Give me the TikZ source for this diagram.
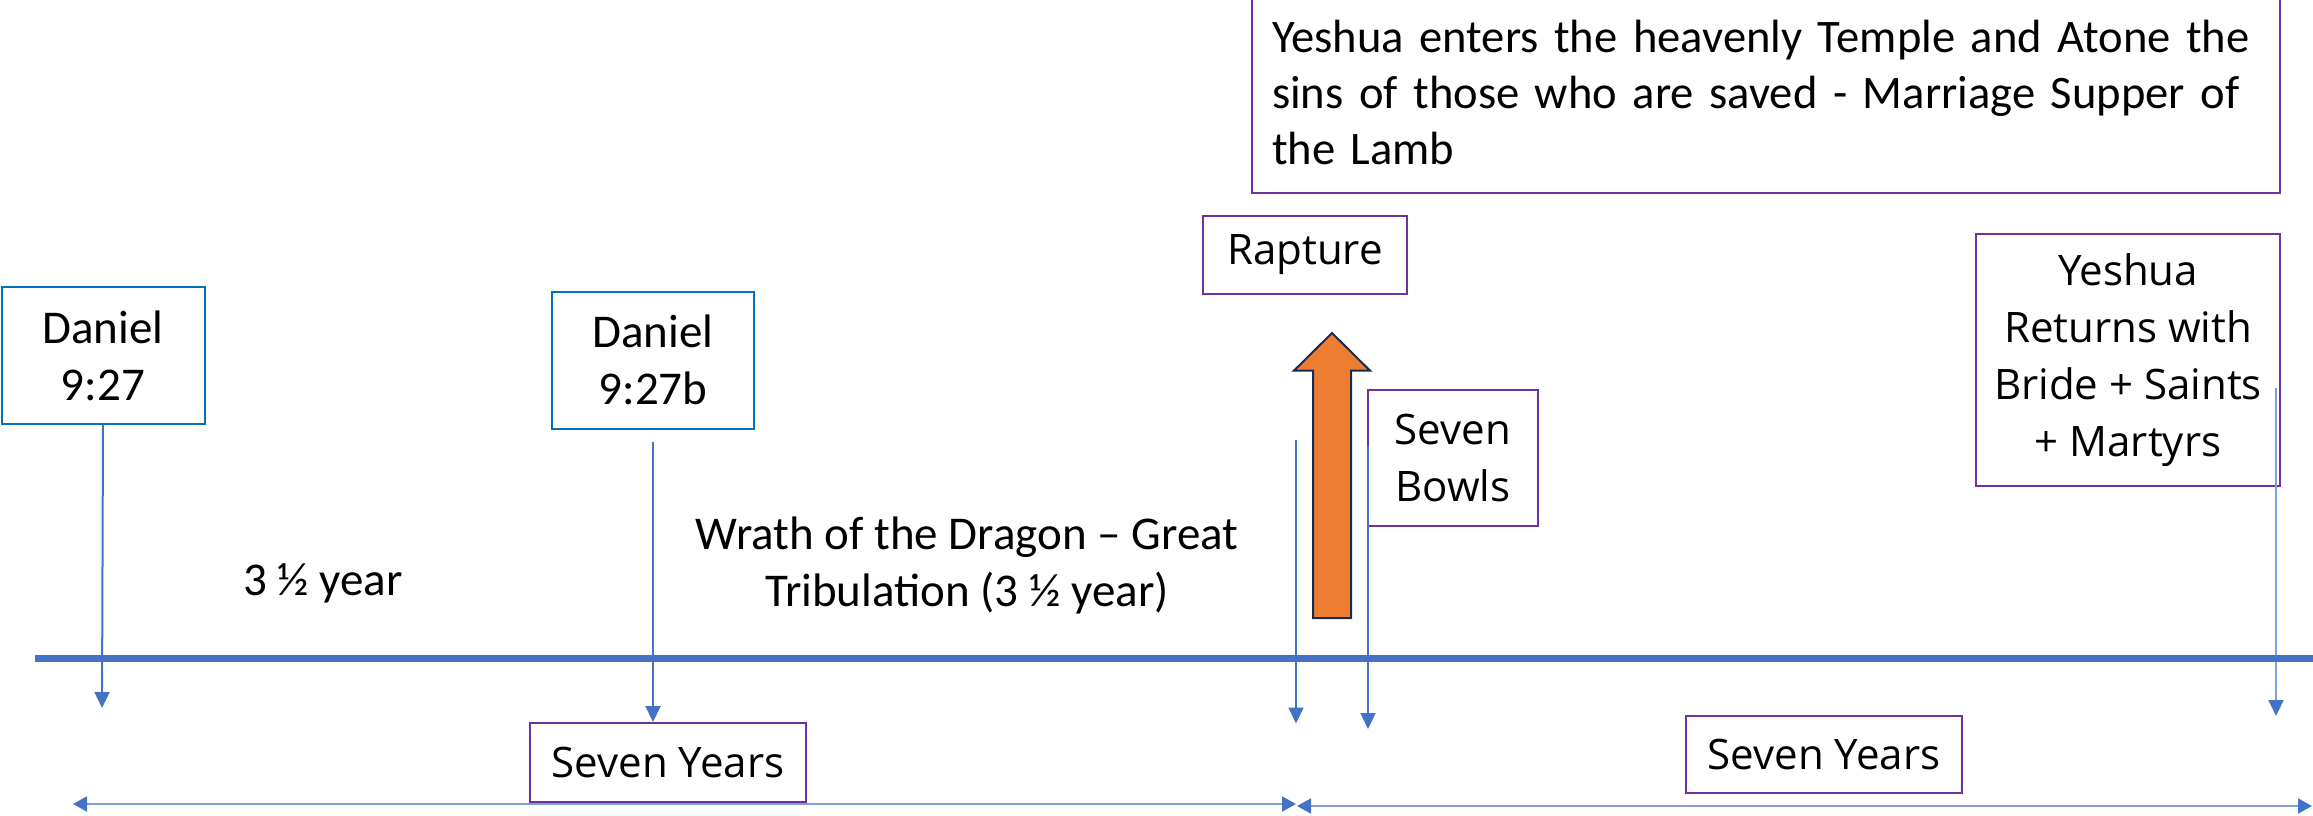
\documentclass[tikz,border=0pt]{standalone}
\usepackage{fontspec}
\setmainfont{Carlito}
\newfontfamily\segoe{Open Sans}
\usetikzlibrary{arrows.meta}

\definecolor{lineblue}{HTML}{4472C4}
\definecolor{boxblue}{HTML}{0070C0}
\definecolor{boxpurple}{HTML}{7030A0}
\definecolor{paleblue}{HTML}{7F9FD8}
\definecolor{raptorange}{HTML}{ED7D31}
\definecolor{navy}{HTML}{172C51}

\tikzset{
  calibri/.style={font=\fontsize{23.5pt}{28.5pt}\selectfont},
  segoetext/.style={font=\segoe\fontsize{21pt}{28.5pt}\selectfont},
  bluebox/.style={draw=boxblue, line width=1pt, inner sep=0pt, align=center, calibri},
  purplebox/.style={draw=boxpurple, line width=1pt, inner sep=0pt, align=center, segoetext},
  marker/.style={draw=lineblue, line width=1pt, -{Triangle[length=8pt,width=7.5pt,color=lineblue]}},
  span/.style={draw=paleblue, line width=1pt,
    {Triangle[length=7pt,width=7.5pt,color=lineblue]}-{Triangle[length=7pt,width=7.5pt,color=lineblue]}}
}

\begin{document}
\begin{tikzpicture}[x=0.5pt, y=-0.5pt]
        \useasboundingbox (0,0) rectangle (2313,815);

        % Boxes
        \node[bluebox, minimum width=101.5pt, minimum height=68.5pt] (dan1) at (103,355.5) {Daniel\\9:27};
        \node[bluebox, minimum width=101pt, minimum height=68.5pt] (dan2) at (653,360) {Daniel\\9:27b};
        \node[purplebox, minimum width=102pt, minimum height=39pt] (rapt) at (1305,255) {Rapture};
        \node[purplebox, font=\fontsize{23.3pt}{28pt}\selectfont, align=left,
          text width=494pt, inner xsep=10pt, minimum height=100.5pt] (temple) at (1766,92.5)
          {Yeshua enters the heavenly Temple and Atone the\\
           sins of those who are saved - Marriage Supper of\\
           the Lamb};
        \node[purplebox, minimum width=85pt, minimum height=67.75pt] (bowls) at (1453,458) {Seven\\Bowls};
        \node[purplebox, minimum width=152pt, minimum height=126pt] (returns) at (2128,360)
          {Yeshua\\Returns with\\Bride + Saints\\+ Martyrs};
        \node[purplebox, minimum width=138pt, minimum height=39.5pt] (years1) at (668,762.5) {Seven Years};
        \node[purplebox, minimum width=138pt, minimum height=38.5pt] (years2) at (1824,754.5) {Seven Years};

        % Free labels
        \node[calibri, anchor=base] (half) at (323,595) {3 ½ year};
        \node[calibri, align=center] (wrath) at (967,565)
          {Wrath of the Dragon – Great\\Tribulation (3 ½ year)};

        % Timeline
        \coordinate (tstart) at (35,658.6);
        \coordinate (tend) at (2313,658.6);

        % Markers
        \coordinate (dan1end) at (102,708);
        \coordinate (raptop) at (1296,440);
        \coordinate (rapend) at (1296,723.5);
        \coordinate (bowltop) at (1368,446);
        \coordinate (bowlend) at (1368,729);
        \coordinate (rettop) at (2276,388);
        \coordinate (retend) at (2276,716);
        \draw[marker] (dan1.south) -- (dan1end);
        \draw[marker] ([yshift=-6pt]dan2.south) -- (years1.north -| dan2.south);
        \draw[marker] (raptop) -- (rapend);
        \draw[marker] (bowltop) -- (bowlend);
        \draw[marker, draw=paleblue] (rettop) -- (retend);

        \draw[lineblue, line width=3.8pt] (tstart) -- (tend);

        % Rapture arrow
        \filldraw[fill=raptorange, draw=navy, line width=1pt]
          (1313,618) -- (1313,370.6) -- (1294,370.6) -- (1332,333)
          -- (1370,370.6) -- (1351,370.6) -- (1351,618) -- cycle;

        % Seven year spans
        \coordinate (spanA) at (73,804);
        \coordinate (spanM) at (1296,804);
        \coordinate (spanN) at (1297,806);
        \coordinate (spanB) at (2312,806);
        \draw[span] (spanA) -- (spanM);
        \draw[span] (spanN) -- (spanB);
      \end{tikzpicture}
\end{document}
